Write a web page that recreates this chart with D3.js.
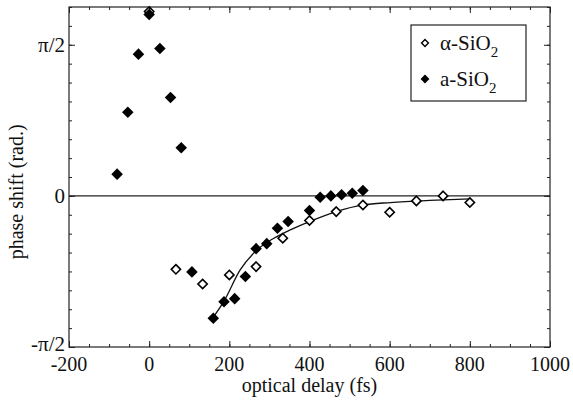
<!DOCTYPE html>
<html>
<head>
<meta charset="utf-8">
<script src="https://cdn.jsdelivr.net/npm/d3@7"></script>
<style>
  html, body { margin: 0; padding: 0; background: #fff; }
  svg { display: block; }
  text { font-family: "Liberation Serif", "DejaVu Serif", serif; fill: #111; }
</style>
</head>
<body>
<svg id="chart" width="573" height="400"></svg>
<script>
// ---- data (phase in units of pi/2) ----
const alphaDelay = [0, 66.7, 133.3, 200, 266.7, 333.3, 400, 466.7, 533.3, 600, 666.7, 733.3, 800];
const alphaPhase = [1.22, -0.486, -0.583, -0.523, -0.468, -0.28, -0.163, -0.104, -0.06, -0.108, -0.033, 0.0, -0.044];

const amorphDelay = [-80, -53.3, -26.7, 0, 26.7, 53.3, 80, 106.7, 160, 186.7, 213.3, 240, 266.7, 293.3, 320, 346.7, 400, 426.7, 453.3, 480, 506.7, 533.3];
const amorphPhase = [0.144, 0.554, 0.938, 1.20, 0.975, 0.651, 0.318, -0.503, -0.81, -0.70, -0.68, -0.534, -0.349, -0.316, -0.214, -0.17, -0.097, -0.009, 0.0, 0.007, 0.018, 0.035];

const fitDelay = [158, 186, 227, 269, 311, 352, 400, 467, 533, 602, 700, 802];
const fitPhase = [-0.81, -0.70, -0.49, -0.358, -0.28, -0.225, -0.17, -0.104, -0.06, -0.044, -0.03, -0.02];

const xTicks = [-200, 0, 200, 400, 600, 800, 1000];
const yTickValues = [-1, 0, 1];
const yTickLabels = ["-\u03C0/2", "0", "\u03C0/2"];
const seriesNames = ["\u03B1-SiO", "a-SiO"];

// ---- layout ----
const svg = d3.select("#chart");
const L = 69, R = 550, T = 7, B = 347;
const x = d3.scaleLinear().domain([-200, 1000]).range([L, R]);
const y = d3.scaleLinear().domain([-1, 1.25]).range([B, T]);

// frame
svg.append("rect").attr("x", L).attr("y", T).attr("width", R - L).attr("height", B - T)
  .attr("fill", "none").attr("stroke", "#222").attr("stroke-width", 1.2);

// axes with inward ticks
const xMinor = d3.range(-200, 1001, 50);
const yMinor = d3.range(-1, 1.2501, 0.125);
svg.append("g").attr("transform", `translate(0,${B})`)
  .call(d3.axisTop(x).tickValues(xMinor).tickSize(3).tickFormat(""));
svg.append("g").attr("transform", `translate(0,${B})`)
  .call(d3.axisTop(x).tickValues(xTicks).tickSize(6).tickFormat(""));
svg.append("g").attr("transform", `translate(0,${T})`)
  .call(d3.axisBottom(x).tickValues(xMinor).tickSize(3).tickFormat(""));
svg.append("g").attr("transform", `translate(0,${T})`)
  .call(d3.axisBottom(x).tickValues(xTicks).tickSize(6).tickFormat(""));
svg.append("g").attr("transform", `translate(${L},0)`)
  .call(d3.axisRight(y).tickValues(yMinor).tickSize(3).tickFormat(""));
svg.append("g").attr("transform", `translate(${L},0)`)
  .call(d3.axisRight(y).tickValues(yTickValues).tickSize(6).tickFormat(""));
svg.append("g").attr("transform", `translate(${R},0)`)
  .call(d3.axisLeft(y).tickValues(yMinor).tickSize(3).tickFormat(""));
svg.append("g").attr("transform", `translate(${R},0)`)
  .call(d3.axisLeft(y).tickValues(yTickValues).tickSize(6).tickFormat(""));
svg.selectAll(".domain").remove();
svg.selectAll(".tick line").attr("stroke", "#222").attr("stroke-width", 1);

// tick labels
svg.append("g").selectAll("text").data(xTicks).join("text")
  .attr("x", d => x(d)).attr("y", B + 24)
  .attr("text-anchor", "middle").attr("font-size", 20)
  .text(d => d);
svg.append("g").selectAll("text").data(yTickValues).join("text")
  .attr("x", L - 4).attr("y", d => y(d) + (d === -1 ? 4 : 7))
  .attr("text-anchor", "end").attr("font-size", 21)
  .text((d, i) => yTickLabels[i]);

// axis titles
svg.append("text").attr("x", (L + R) / 2).attr("y", 392)
  .attr("text-anchor", "middle").attr("font-size", 20).text("optical delay (fs)");
svg.append("text").attr("transform", `translate(23,${y(0) - 4}) rotate(-90)`)
  .attr("text-anchor", "middle").attr("font-size", 20).text("phase shift (rad.)");

// zero line
svg.append("line").attr("x1", L).attr("x2", R).attr("y1", y(0)).attr("y2", y(0))
  .attr("stroke", "#222").attr("stroke-width", 1.2);

// fit curve
const fitPts = fitDelay.map((d, i) => [d, fitPhase[i]]);
svg.append("path").datum(fitPts)
  .attr("d", d3.line().x(d => x(d[0])).y(d => y(d[1])).curve(d3.curveMonotoneX))
  .attr("fill", "none").attr("stroke", "#111").attr("stroke-width", 1.3);

// markers
const diamond = d3.symbol().type(d3.symbolDiamond2);
svg.append("g").selectAll("path").data(amorphDelay.map((d, i) => [d, amorphPhase[i]])).join("path")
  .attr("transform", d => `translate(${x(d[0])},${y(d[1])})`)
  .attr("d", diamond.size(85)())
  .attr("fill", "#000");
svg.append("g").selectAll("path").data(alphaDelay.map((d, i) => [d, alphaPhase[i]])).join("path")
  .attr("transform", d => `translate(${x(d[0])},${y(d[1])})`)
  .attr("d", diamond.size(55)())
  .attr("fill", (d, i) => i === 0 ? "none" : "#fff").attr("stroke", "#000").attr("stroke-width", 1.6);

// legend
const lg = svg.append("g");
lg.append("rect").attr("x", 411).attr("y", 25).attr("width", 115).attr("height", 76)
  .attr("fill", "#fff").attr("stroke", "#222").attr("stroke-width", 1.2);
const legendRows = [{ cy: 43, open: true }, { cy: 79, open: false }];
legendRows.forEach((r, i) => {
  lg.append("path").attr("transform", `translate(425,${r.cy})`)
    .attr("d", d3.symbol().type(d3.symbolDiamond2).size(r.open ? 30 : 50)())
    .attr("fill", r.open ? "#fff" : "#000").attr("stroke", "#000").attr("stroke-width", r.open ? 1.4 : 0);
  const t = lg.append("text").attr("x", 440).attr("y", r.cy + 7).attr("font-size", 21);
  t.append("tspan").text(seriesNames[i]);
  t.append("tspan").attr("dy", 7).attr("font-size", 15).text("2");
});
</script>
</body>
</html>
